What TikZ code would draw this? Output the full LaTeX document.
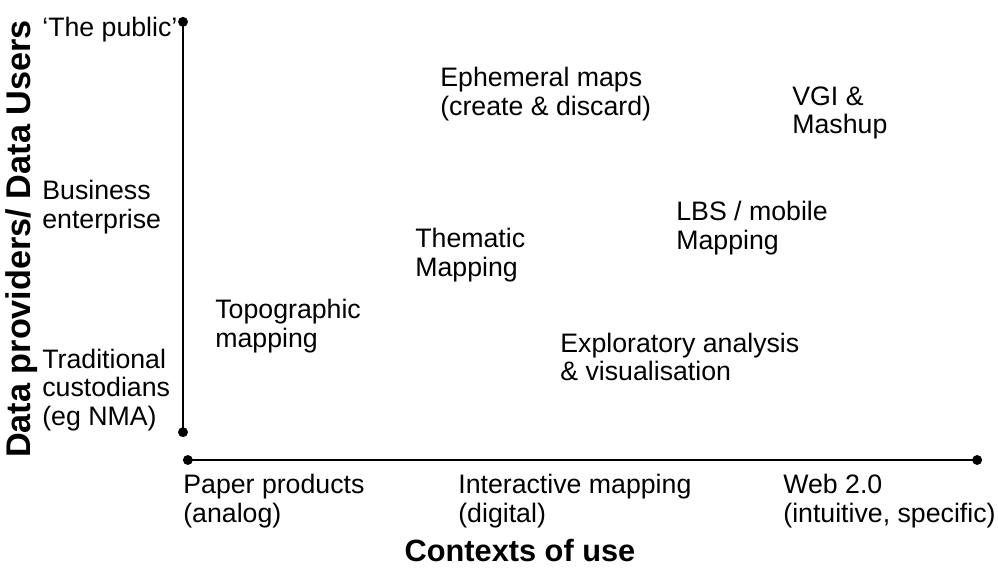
\documentclass[tikz,border=0pt]{standalone}
\usepackage{fontspec}
\setmainfont{Liberation Sans}
\usetikzlibrary{arrows.meta}

\begin{document}
\begin{tikzpicture}[
    x=0.02cm,y=-0.02cm,
    axis/.style={{Circle[length=5.5pt]}-{Circle[length=5.5pt]},line width=1.7pt,black},
    label/.style={anchor=west,align=left,inner sep=0pt,font=\fontsize{15.2}{16.4}\selectfont},
    title/.style={inner sep=0pt,font=\fontsize{17.5}{20}\selectfont\bfseries},
]
\useasboundingbox (0,0) rectangle (998,568);

% === AXES ===
\coordinate (ytop) at (183,17);
\coordinate (ybot) at (183,437);
\coordinate (xleft) at (183,460);
\coordinate (xright) at (982,460);
\draw[axis] (ybot) -- (ytop);
\draw[axis] (xleft) -- (xright);

% === AXIS TITLES ===
\node[title] (xtitle) at (520,551) {Contexts of use};
\node[title,rotate=90,font=\fontsize{19.5}{22}\selectfont\bfseries] (ytitle) at (22,239) {Data providers/ Data Users};

% === Y LEVELS ===
\node[label] (public) at (42,30) {‘The public’};
\node[label] (business) at (42,207) {Business\\enterprise};
\node[label] (custodians) at (42,390) {Traditional\\custodians\\(eg NMA)};

% === X LEVELS ===
\node[label] (paper) at (183,501) {Paper products\\(analog)};
\node[label] (interactive) at (458,501) {Interactive mapping\\(digital)};
\node[label] (web) at (783,501) {Web 2.0\\(intuitive, specific)};

% === MAPPING TYPES ===
\node[label] (ephemeral) at (440,94) {Ephemeral maps\\(create \& discard)};
\node[label] (vgi) at (792,113) {VGI \&\\Mashup};
\node[label] (lbs) at (676,228) {LBS / mobile\\Mapping};
\node[label] (thematic) at (415,255) {Thematic\\Mapping};
\node[label] (topo) at (215,326) {Topographic\\mapping};
\node[label] (explore) at (560,357) {Exploratory analysis\\\& visualisation};

\end{tikzpicture}
\end{document}
